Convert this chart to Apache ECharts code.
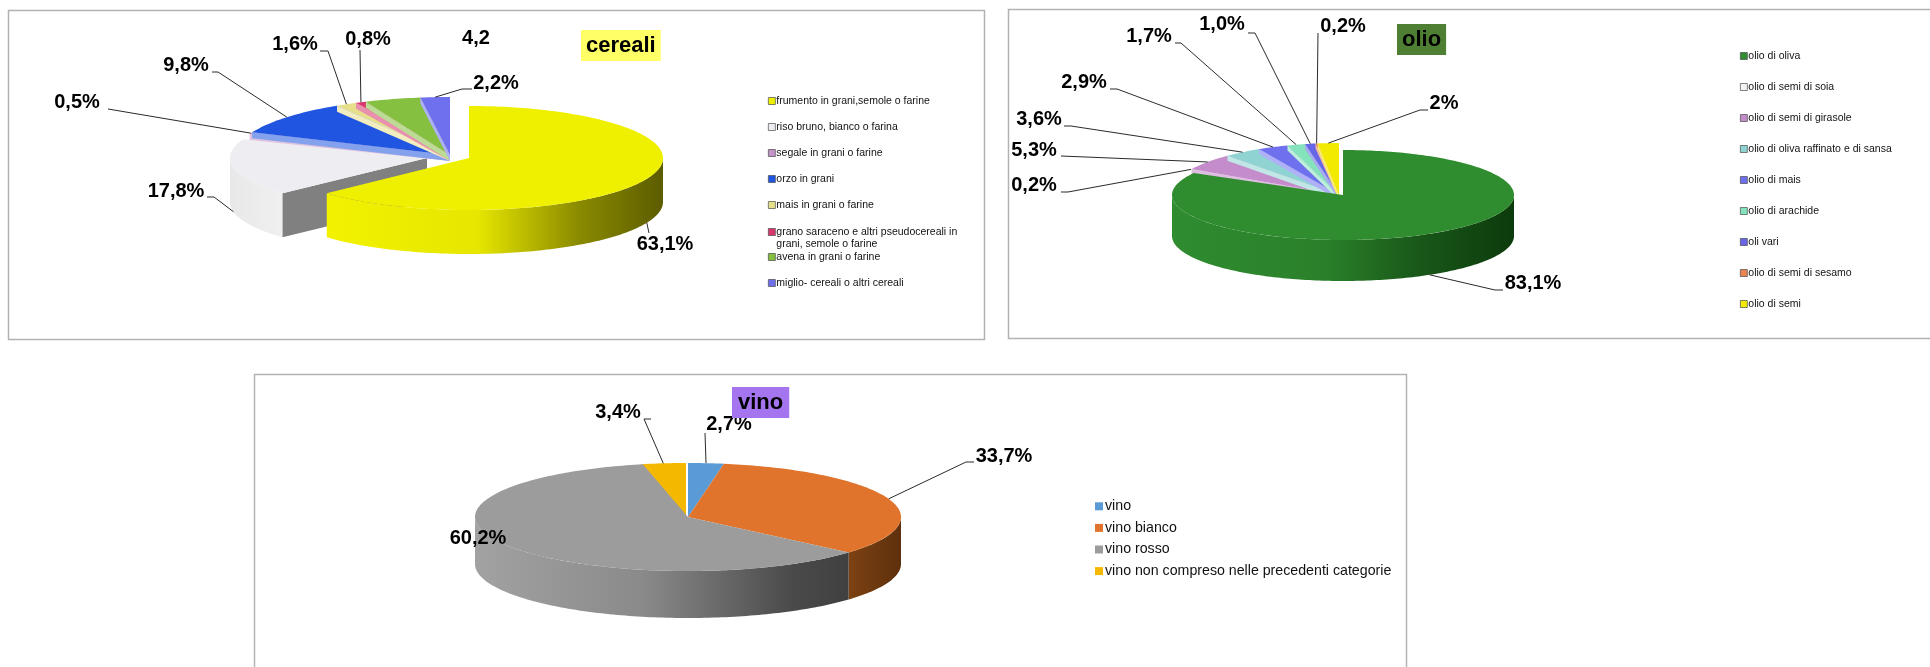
<!DOCTYPE html>
<html><head><meta charset="utf-8">
<style>html,body{margin:0;padding:0;background:#fff}#c{width:1930px;height:667px}</style>
<script src="https://cdn.jsdelivr.net/npm/echarts@6/dist/echarts.min.js"></script>
</head><body><div id="c"></div>
<script>
// ---- data ----
const cerealiNames=['frumento in grani,semole o farine','riso bruno, bianco o farina','segale in grani o farine','orzo in grani','mais in grani o farine','grano saraceno e altri pseudocereali in grani, semole o farine','avena in grani o farine','miglio- cereali o altri cereali'];
const cerealiValues=[63.1,17.8,0.5,9.8,1.6,0.8,4.2,2.2];
const cerealiLabels=['63,1%','17,8%','0,5%','9,8%','1,6%','0,8%','4,2','2,2%'];
const cerealiColors=['#eef000','#eeeef2','#c493c8','#1f55e0','#e6e08a','#d9366f','#86c040','#6f70ee'];
const olioNames=['olio di oliva','olio di semi di soia','olio di semi di girasole','olio di oliva raffinato e di sansa','olio di mais','olio di arachide','oli vari','olio di semi di sesamo','olio di semi'];
const olioValues=[83.1,0.2,5.3,3.6,2.9,1.7,1.0,0.2,2];
const olioLabels=['83,1%','0,2%','5,3%','3,6%','2,9%','1,7%','1,0%','0,2%','2%'];
const olioColors=['#2f8c2f','#f4f4f4','#c48ccb','#8fd3d3','#6f70ee','#84e3bb','#6666e6','#ea8450','#f2ea00'];
const vinoNames=['vino','vino bianco','vino rosso','vino non compreso nelle precedenti categorie'];
const vinoValues=[2.7,33.7,60.2,3.4];
const vinoLabels=['2,7%','33,7%','60,2%','3,4%'];
const vinoColors=['#5b9bd5','#e0742c','#9c9c9c','#f5b800'];

// ---- layout ----
const FONT='"Liberation Sans",Arial,sans-serif';
const small={cx:450,cy:155,rx:215,ry:58,h:6,faced:true};
const smallO={cx:1339,cy:195,rx:170,ry:52,h:5,faced:true};
const pies=[
 {names:cerealiNames,values:cerealiValues,labels:cerealiLabels,colors:cerealiColors,
  order:[1,2,3,4,5,6,7,0],
  geo:[{cx:469,cy:158,rx:194,ry:52,h:44,wall:[[0,'#f2f200'],[.45,'#e6e600'],[.75,'#8a8a00'],[1,'#5c5c00']]},
       {cx:427,cy:158,rx:197,ry:52,h:44,wall:[[0,'#e8e8e8'],[1,'#f0f0f0']],face:'#808080'},
       small,small,small,small,small,small],
  text:[[665,244],[176,191],[77,102],[186,65],[295,44],[368,39],[476,38],[496,83]],
  elbow:[[[649,233]],[[207,197],[214,197]],[[108,109]],[[212,72],[218,72]],[[320,51],[328,51]],[[360,50]],null,[[472,89],[462,89]]]},
 {names:olioNames,values:olioValues,labels:olioLabels,colors:olioColors,
  order:[1,2,3,4,5,6,7,8,0],
  geo:[{cx:1343,cy:195,rx:171,ry:45,h:41,wall:[[0,'#2f8c2f'],[.45,'#2a802a'],[.7,'#1a5a1a'],[1,'#0c3a0c']]},
       smallO,smallO,smallO,smallO,smallO,smallO,smallO,smallO],
  text:[[1533,283],[1034,185],[1034,150],[1039,119],[1084,82],[1149,36],[1222,24],[1343,26],[1444,103]],
  elbow:[[[1503,290],[1495,290]],[[1061,192],[1068,192]],[[1061,156]],[[1064,126],[1071,126]],[[1110,89],[1117,89]],[[1175,43],[1181,43]],[[1248,33],[1255,33]],[[1318,33]],[[1428,110],[1420,110]]]},
 {names:vinoNames,values:vinoValues,labels:vinoLabels,colors:vinoColors,
  order:[3,0,1,2],
  geo:[{cx:688,cy:517,rx:213,ry:54,h:47},
       {cx:688,cy:517,rx:213,ry:54,h:47,wall:[[0,'#7c4212'],[1,'#5e300c']]},
       {cx:688,cy:517,rx:213,ry:54,h:47,wall:[[0,'#a2a2a2'],[.45,'#8a8a8a'],[.85,'#4a4a4a'],[1,'#404040']]},
       {cx:686,cy:517,rx:213,ry:54,h:47}],
  text:[[729,424],[1004,456],[478,538],[618,412]],
  elbow:[[[705,433]],[[974,462],[966,462]],null,[[651,419],[644,419]]]}
];

const TAU=Math.PI*2;
function bounds(p,i){
  const tot=p.values.reduce((a,b)=>a+b,0);
  let c=0;for(let k=0;k<i;k++)c+=p.values[k];
  return [c/tot*TAU,(c+p.values[i])/tot*TAU];
}
function pt(g,t,dy){return [g.cx+g.rx*Math.sin(t),g.cy-g.ry*Math.cos(t)+(dy||0)];}
function arc(g,a,b,dy){const n=Math.max(2,Math.ceil((b-a)/0.02)),o=[];for(let k=0;k<=n;k++)o.push(pt(g,a+(b-a)*k/n,dy));return o;}
function sliceRender(p,i){
  return function(params,api){
    const g=p.geo[i],[a,b]=bounds(p,i),col=p.colors[i],ch=[];
    api.value(0);
    const lo=Math.max(a,Math.PI/2),hi=Math.min(b,Math.PI*1.5);
    if(hi>lo){
      const top=arc(g,lo,hi,0),bot=arc(g,lo,hi,g.h).reverse();
      const dark=echarts.color.lift(col,.3);
      const stops=(g.wall||[[0,dark],[1,dark]]).map(s=>({offset:s[0],color:s[1]}));
      ch.push({type:'polygon',shape:{points:top.concat(bot)},style:{fill:new echarts.graphic.LinearGradient(0,0,1,0,stops)}});
    }
    if(g.face||g.faced){
      const s=pt(g,a);
      ch.push({type:'polygon',shape:{points:[[g.cx,g.cy],s,[s[0],s[1]+g.h],[g.cx,g.cy+g.h]]},
        style:{fill:g.face||echarts.color.lift(col,.45)}});
    }
    ch.push({type:'polygon',shape:{points:[[g.cx,g.cy]].concat(arc(g,a,b,0))},style:{fill:col}});
    return {type:'group',children:ch};
  };
}
function labelRender(p){
  return function(params,api){
    const i=params.dataIndex,g=p.geo[i],[a,b]=bounds(p,i),m=(a+b)/2,ch=[];
    api.value(0);
    const front=Math.cos(m)<0;
    const e=pt(g,m,front?g.h:0);
    if(p.elbow[i]){
      ch.push({type:'polyline',shape:{points:p.elbow[i].concat([e])},style:{stroke:'#2b2b2b',lineWidth:1,fill:null}});
    }
    ch.push({type:'text',style:{text:p.labels[i],x:p.text[i][0],y:p.text[i][1],align:'center',verticalAlign:'middle',
      fill:'#000',font:'bold 20px '+FONT}});
    return {type:'group',children:ch};
  };
}
const series=[];
pies.forEach((p,pi)=>{
  p.order.forEach((i,k)=>{
    series.push({type:'custom',name:p.names[i],coordinateSystem:'none',silent:true,animation:false,
      z:2+k,itemStyle:{color:p.colors[i]},data:[[p.values[i]]],renderItem:sliceRender(p,i)});
  });
  series.push({type:'custom',name:'etichette '+pi,coordinateSystem:'none',silent:true,animation:false,z:30,
    data:p.values.map(v=>[v]),renderItem:labelRender(p)});
});
const border={stroke:'#b2b2b2',lineWidth:1.5,fill:'#fff'};
const lgCommon=(size)=>({orient:'vertical',padding:0,itemWidth:7,itemHeight:7,icon:'rect',selectedMode:false,
  itemStyle:{borderColor:'#4a4a4a',borderWidth:.7},
  textStyle:{fontFamily:FONT,fontSize:size,color:'#111',lineHeight:12,padding:[0,0,0,-4]}});
const opt={
  animation:false,backgroundColor:'#fff',
  title:[
   {text:'cereali',left:581,top:30,padding:[4,5,4,5],backgroundColor:'#ffff66',textStyle:{fontFamily:FONT,fontSize:22,fontWeight:'bold',color:'#000',lineHeight:23}},
   {text:'olio',left:1397,top:24,padding:[4,5,4,5],backgroundColor:'#4f7f33',textStyle:{fontFamily:FONT,fontSize:22,fontWeight:'bold',color:'#000',lineHeight:23}},
   {text:'vino',left:732,top:387,padding:[4,6,4,6],backgroundColor:'#a575f0',textStyle:{fontFamily:FONT,fontSize:22,fontWeight:'bold',color:'#000',lineHeight:23},z:40}
  ],
  legend:[
   Object.assign(lgCommon(10.5),{left:768,top:95,itemGap:14,data:cerealiNames.slice(0,5)}),
   Object.assign(lgCommon(10.5),{left:768,top:214,data:[cerealiNames[5]],
      formatter:()=>'\ngrano saraceno e altri pseudocereali in\ngrani, semole o farine'}),
   Object.assign(lgCommon(10.5),{left:768,top:251,itemGap:14,data:cerealiNames.slice(6)}),
   Object.assign(lgCommon(10.5),{left:1740,top:50,itemGap:19,data:olioNames}),
   Object.assign(lgCommon(14.2),{left:1095,top:499,itemWidth:8,itemHeight:8,itemGap:7,itemStyle:{borderWidth:0},
      textStyle:{fontFamily:FONT,fontSize:14.2,color:'#111',lineHeight:14.6,padding:[0,0,0,-3]},data:vinoNames})
  ],
  graphic:[
   {type:'rect',z:-1,silent:true,shape:{x:8.5,y:10.5,width:976,height:329},style:border},
   {type:'rect',z:-1,silent:true,shape:{x:1008.5,y:9.5,width:930,height:329},style:border},
   {type:'rect',z:-1,silent:true,shape:{x:254.5,y:374.5,width:1152,height:300},style:border}
  ],
  series
};
const chart=echarts.init(document.getElementById('c'),null,{renderer:'canvas'});
chart.setOption(opt);
</script></body></html>
